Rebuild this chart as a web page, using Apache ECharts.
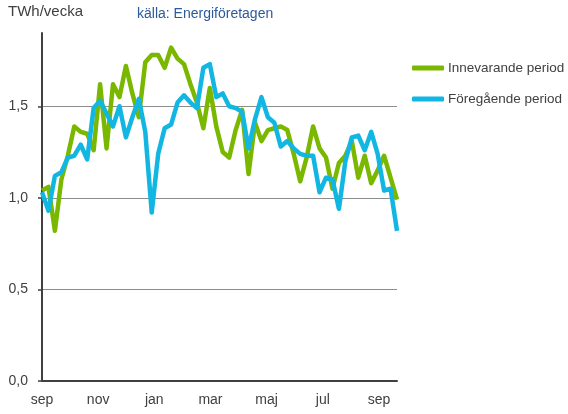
<!DOCTYPE html>
<html><head><meta charset="utf-8">
<script src="https://cdn.jsdelivr.net/npm/echarts@6/dist/echarts.min.js"></script>
<style>html,body{margin:0;padding:0;background:#fff}#c{width:568px;height:414px}</style>
</head><body><div id="c"></div>
<script>
var monthLabels = ['sep','nov','jan','mar','maj','jul','sep'];
var yTicks = [0, 0.5, 1.0, 1.5];
var seriesNames = ['Innevarande period', 'Föregående period'];
var innevarande = [1.04,1.06,0.82,1.10,1.23,1.39,1.36,1.35,1.26,1.62,1.27,1.62,1.55,1.72,
  1.57,1.44,1.74,1.78,1.78,1.71,1.82,1.76,1.73,1.62,1.52,1.38,1.60,1.39,
  1.25,1.22,1.37,1.48,1.13,1.41,1.31,1.37,1.38,1.39,1.37,1.24,1.09,1.22,
  1.39,1.27,1.22,1.05,1.19,1.23,1.31,1.11,1.23,1.08,1.15,1.23,1.11,0.99];
var foregaende = [1.03,0.93,1.12,1.14,1.22,1.23,1.29,1.21,1.49,1.53,1.46,1.39,1.50,1.33,
  1.44,1.54,1.36,0.92,1.24,1.38,1.40,1.52,1.56,1.52,1.49,1.71,1.73,1.55,
  1.57,1.50,1.49,1.47,1.27,1.43,1.55,1.44,1.41,1.28,1.31,1.27,1.24,1.23,
  1.23,1.03,1.11,1.10,0.94,1.20,1.33,1.34,1.26,1.36,1.24,1.04,1.05,0.82];

var monthStep = 8.7;
var chart = echarts.init(document.getElementById('c'));
var txt = '#404040';
chart.setOption({
  animation: false,
  textStyle: {fontFamily: 'Liberation Sans'},
  graphic: [
    {type:'text', left: 8, top: 4, style:{text:'TWh/vecka', fill: txt, font:'15px "Liberation Sans"'}},
    {type:'text', left: 137, top: 7, style:{text:'källa: Energiföretagen', fill:'#2c5a9a', font:'14px "Liberation Sans"'}}
  ],
  legend: {
    orient: 'vertical', left: 412, top: 61, padding: 0,
    itemWidth: 32, itemHeight: 5, itemGap: 17,
    icon: 'roundRect',
    textStyle: {color: txt, fontSize: 13.5, padding:[0,0,0,-1]},
    data: seriesNames
  },
  grid: {left: 42, right: 171, top: 33, bottom: 33, containLabel: false},
  xAxis: {
    type: 'value', min: 0, max: innevarande.length - 1, interval: monthStep,
    axisLine: {lineStyle: {color: txt, width: 2}},
    axisTick: {show: false},
    splitLine: {show: false},
    axisLabel: {color: txt, fontSize: 14, margin: 12, showMaxLabel: false,
      formatter: function(v){ var i = Math.round(v / monthStep); return monthLabels[i] || ''; }}
  },
  yAxis: {
    type: 'value', min: 0, max: 1.9, interval: 0.5,
    axisLine: {show: true, lineStyle: {color: txt, width: 2}},
    axisTick: {show: true, length: 4, lineStyle: {color: txt, width: 1.5}},
    splitLine: {show: true, lineStyle: {color: ['rgba(0,0,0,0)','#8c8c8c','#8c8c8c','#8c8c8c','rgba(0,0,0,0)'], width: 1.2}},
    axisLabel: {color: txt, fontSize: 14, margin: 14, showMaxLabel: false,
      formatter: function(v){ return yTicks.indexOf(v) >= 0 ? v.toFixed(1).replace('.', ',') : ''; }}
  },
  series: [
    {name: seriesNames[0], type: 'line', symbol: 'none', z: 2,
     lineStyle: {color: '#7ab800', width: 4.5, join: 'round'}, itemStyle: {color: '#7ab800'},
     data: innevarande.map(function(v,i){return [i,v];})},
    {name: seriesNames[1], type: 'line', symbol: 'none', z: 3,
     lineStyle: {color: '#12b6e2', width: 4.5, join: 'round'}, itemStyle: {color: '#12b6e2'},
     data: foregaende.map(function(v,i){return [i,v];})}
  ]
});
</script></body></html>
